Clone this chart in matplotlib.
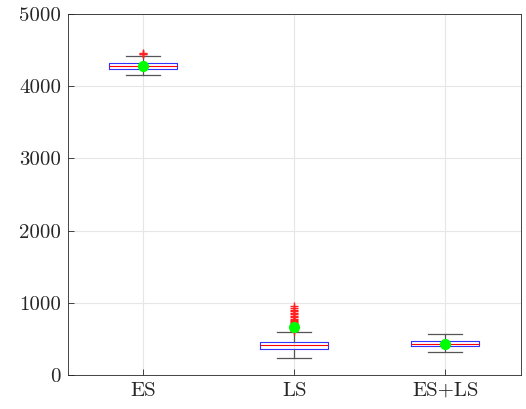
import matplotlib
matplotlib.use("Agg")
import matplotlib.pyplot as plt

plt.rcParams['font.family'] = 'serif'
plt.rcParams['font.serif'] = ['cmr10']
plt.rcParams['mathtext.fontset'] = 'cm'
plt.rcParams['axes.formatter.use_mathtext'] = True

categories = ['ES', 'LS', 'ES+LS']
q1 = [4242, 360, 402]
medians = [4280, 415, 436]
q3 = [4321, 457, 471]
whisker_low = [4155, 235, 318]
whisker_high = [4423, 595, 568]
means = [4280, 670, 436]
outliers = [
    [4440, 4450, 4458],
    [610, 630, 650, 665, 680, 700, 715, 730, 745, 760, 780, 800, 820, 840, 860, 880, 900, 925, 950],
    [],
]
yticks = [0, 1000, 2000, 3000, 4000, 5000]

stats = []
for i, c in enumerate(categories):
    stats.append(dict(label=c, q1=q1[i], med=medians[i], q3=q3[i],
                      whislo=whisker_low[i], whishi=whisker_high[i],
                      mean=means[i], fliers=outliers[i]))

fig = plt.figure(figsize=(5.26, 4.09), dpi=100)
ax = fig.add_axes([0.129, 0.083, 0.861, 0.883])

ax.bxp(stats, positions=[1, 2, 3], widths=0.45, showmeans=True,
       boxprops=dict(color='#3333ff', linewidth=0.8),
       medianprops=dict(color='#ff0000', linewidth=0.8),
       whiskerprops=dict(color='#555555', linewidth=0.9),
       capprops=dict(color='#555555', linewidth=0.9),
       capwidths=0.225,
       flierprops=dict(marker='+', markeredgecolor='#ff2020', markersize=6, linestyle='none'),
       meanprops=dict(marker='o', markerfacecolor='#00ff00', markeredgecolor='#00ff00', markersize=7))

ax.set_xlim(0.5, 3.5)
ax.set_ylim(0, 5000)
ax.set_yticks(yticks)
ax.set_yticklabels([str(v) for v in yticks])
ax.set_xticks([1, 2, 3])
ax.set_xticklabels(categories)
ax.grid(True, color='#e6e6e6', linewidth=0.8)
ax.set_axisbelow(True)
ax.tick_params(direction='in', length=4, labelsize=15, colors='#262626', width=0.6, pad=5)
for s in ax.spines.values():
    s.set_color('#262626')
    s.set_linewidth(0.6)

fig.savefig('out.png', dpi=100)
